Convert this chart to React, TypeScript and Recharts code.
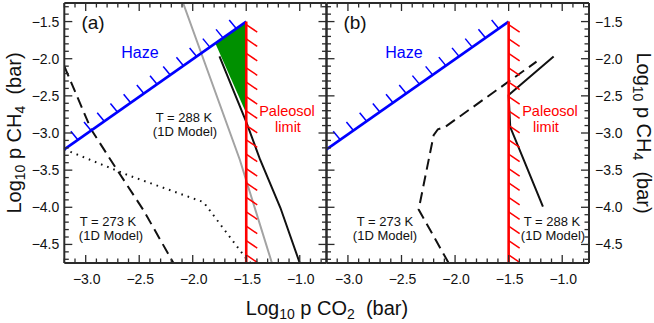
import React from 'react';
import { ComposedChart, Line, Area, XAxis, YAxis, ReferenceLine } from 'recharts';

// ---------- data ----------
const X_DOMAIN: [number, number] = [-3.2, -0.75];
const Y_DOMAIN: [number, number] = [-4.75, -1.25];

const xTicks = [-3.2, -3.1, -3.0, -2.9, -2.8, -2.7, -2.6, -2.5, -2.4, -2.3, -2.2, -2.1, -2.0, -1.9, -1.8, -1.7, -1.6, -1.5, -1.4, -1.3, -1.2, -1.1, -1.0, -0.9, -0.8];
const yTicks = [-4.7, -4.6, -4.5, -4.4, -4.3, -4.2, -4.1, -4.0, -3.9, -3.8, -3.7, -3.6, -3.5, -3.4, -3.3, -3.2, -3.1, -3.0, -2.9, -2.8, -2.7, -2.6, -2.5, -2.4, -2.3, -2.2, -2.1, -2.0, -1.9, -1.8, -1.7, -1.6, -1.5, -1.4, -1.3];

// limits (shared by both panels)
const hazeLimit = [{ x: -3.2, y: -3.22 }, { x: -1.5, y: -1.5 }];
const paleosolLimit = [{ x: -1.5, y: -1.5 }, { x: -1.5, y: -4.75 }];

// panel (a)
const aWarm288 = [{ x: -1.75, y: -1.97 }, { x: -1.5, y: -2.85 }, { x: -1.37, y: -3.36 }, { x: -1.18, y: -4.01 }, { x: -1.0, y: -4.75 }];
const aGray = [{ x: -2.09, y: -1.25 }, { x: -1.56, y: -3.36 }, { x: -1.26, y: -4.75 }];
const aCold273 = [{ x: -3.2, y: -2.1 }, { x: -2.95, y: -2.95 }, { x: -2.75, y: -3.4 }, { x: -2.46, y: -4.04 }, { x: -2.18, y: -4.75 }];
const aDotted = [{ x: -3.2, y: -3.22 }, { x: -2.6, y: -3.57 }, { x: -1.9, y: -3.93 }, { x: -1.5, y: -4.69 }, { x: -1.46, y: -4.75 }];
const aOverlap = [{ x: -1.79, range: [-1.79, -1.79] }, { x: -1.5, range: [-2.735, -1.5] }];

// panel (b)
const bCold273 = [{ x: -2.06, y: -4.75 }, { x: -2.34, y: -4.03 }, { x: -2.2, y: -3.03 }, { x: -2.16, y: -2.95 }, { x: -2.09, y: -2.915 }, { x: -1.24, y: -2.04 }];
const bWarm288 = [{ x: -1.08, y: -1.97 }, { x: -1.5, y: -2.49 }, { x: -1.485, y: -2.92 }, { x: -1.36, y: -3.36 }, { x: -1.18, y: -3.99 }];

// ---------- styles ----------
const FONT = '"Liberation Sans", Arial, Helvetica, sans-serif';
const AXIS = '#2b2b2b';
const BLUE = '#0000ff';
const RED = '#ff0000';
const GREEN = '#009000';

const isMajor = (v: number) => Math.abs(v * 2 - Math.round(v * 2)) < 1e-6;
const fmt = (v: number) => v.toFixed(1).replace('-', '\u2212');

type Side = 'bottom' | 'top' | 'left' | 'right';
const makeTick = (side: Side, showLabel: boolean) => (props: any) => {
  const { x, y, payload } = props;
  const v = payload.value as number;
  const major = isMajor(v);
  const len = major ? 8 : 4.5;
  let ln: any = null;
  let lab: any = null;
  if (side === 'bottom') {
    ln = <line x1={x} y1={y} x2={x} y2={y - len} />;
    if (showLabel && major) lab = <text x={x + 1} y={y + 20.5} textAnchor="middle">{fmt(v)}</text>;
  } else if (side === 'top') {
    ln = <line x1={x} y1={y} x2={x} y2={y + len} />;
  } else if (side === 'left') {
    ln = <line x1={x} y1={y} x2={x + len} y2={y} />;
    if (showLabel && major) lab = <text x={x - 5} y={y + 5} textAnchor="end">{fmt(v)}</text>;
  } else {
    ln = <line x1={x} y1={y} x2={x - len} y2={y} />;
    if (showLabel && major) lab = <text x={x + 6} y={y + 5} textAnchor="start">{fmt(v)}</text>;
  }
  return (
    <g>
      <g stroke={AXIS} strokeWidth={1.3}>{ln}</g>
      {lab && <g fill="#111" stroke="none" fontSize={14} fontFamily={FONT}>{lab}</g>}
    </g>
  );
};

const HazeShape = (props: any) => {
  const { x1, y1, x2, y2 } = props;
  const [xa, ya, xb, yb] = x1 < x2 ? [x1, y1, x2, y2] : [x2, y2, x1, y1];
  const hatches: any[] = [];
  for (let px = xb - 10; px > xa; px -= 13.2) {
    const t = (px - xa) / (xb - xa);
    const py = ya + t * (yb - ya);
    let ex = px - 7;
    let ey = py - 8.5;
    if (ex < xa) {
      const f = (px - xa) / 7;
      ex = xa;
      ey = py - 8.5 * f;
    }
    hatches.push(<line key={px} x1={px} y1={py} x2={ex} y2={ey} />);
  }
  return (
    <g stroke={BLUE} fill="none">
      <g strokeWidth={1.5}>{hatches}</g>
      <line x1={xa} y1={ya} x2={xb} y2={yb} strokeWidth={2.6} />
    </g>
  );
};

const PaleosolShape = (props: any) => {
  const { x1, y1, x2, y2 } = props;
  const top = Math.min(y1, y2);
  const bot = Math.max(y1, y2);
  const hatches: any[] = [];
  for (let py = top + 3; py < bot; py += 14.4) {
    let ey = py + 7.5;
    let ex = x1 + 11;
    if (ey > bot) {
      const f = (bot - py) / 7.5;
      ey = bot;
      ex = x1 + 11 * f;
    }
    hatches.push(<line key={py} x1={x1} y1={py} x2={ex} y2={ey} />);
  }
  return (
    <g stroke={RED} fill="none">
      <g strokeWidth={1.5}>{hatches}</g>
      <line x1={x1} y1={top} x2={x2} y2={bot} strokeWidth={2.6} />
    </g>
  );
};

const axisLine = { stroke: AXIS, strokeWidth: 2 };

function Panel(props: { left: number; right: number; labelLeft: boolean; labelRight: boolean; children: any }) {
  const { left, right, labelLeft, labelRight, children } = props;
  return (
    <div style={{ position: 'absolute', left: 0, top: 0 }}>
      <ComposedChart width={654} height={323} margin={{ top: 2, bottom: 59, left: left - 1, right: right - 1 }}>
        <XAxis xAxisId={0} dataKey="x" type="number" domain={X_DOMAIN} allowDataOverflow ticks={xTicks} interval={0}
          orientation="bottom" height={1} tickSize={0} tickMargin={0} tickLine={false} axisLine={axisLine}
          tick={makeTick('bottom', true)} />
        <XAxis xAxisId="t" dataKey="x" type="number" domain={X_DOMAIN} allowDataOverflow ticks={xTicks} interval={0}
          orientation="top" height={1} tickSize={0} tickMargin={0} tickLine={false} axisLine={axisLine}
          tick={makeTick('top', false)} />
        <YAxis yAxisId={0} type="number" domain={Y_DOMAIN} allowDataOverflow ticks={yTicks} interval={0}
          orientation="left" width={1} tickSize={0} tickMargin={0} tickLine={false} axisLine={axisLine}
          tick={makeTick('left', labelLeft)} />
        <YAxis yAxisId="r" type="number" domain={Y_DOMAIN} allowDataOverflow ticks={yTicks} interval={0}
          orientation="right" width={1} tickSize={0} tickMargin={0} tickLine={false} axisLine={axisLine}
          tick={makeTick('right', labelRight)} />
        {children}
      </ComposedChart>
    </div>
  );
}

const T = (p: { x: number; y: number; size: number; color?: string; children: any }) => (
  <text x={p.x} y={p.y} fontSize={p.size} fill={p.color || '#111'} textAnchor="middle" fontFamily={FONT}>{p.children}</text>
);

const NB = '\u00a0';

export default function App() {
  return (
    <div style={{ position: 'absolute', left: 0, top: 0, width: 654, height: 323, background: '#fff', overflow: 'hidden' }}>
      <Panel left={64.3} right={654 - 326.5} labelLeft={true} labelRight={false}>
        <Area data={aOverlap} dataKey="range" type="linear" fill={GREEN} fillOpacity={1} stroke="none" isAnimationActive={false} dot={false} activeDot={false} />
        <Line data={aGray} dataKey="y" type="linear" stroke="#a3a3a3" strokeWidth={2} dot={false} activeDot={false} isAnimationActive={false} />
        <Line data={aCold273} dataKey="y" type="linear" stroke="#111" strokeWidth={2} strokeDasharray="11 6" dot={false} activeDot={false} isAnimationActive={false} />
        <Line data={aDotted} dataKey="y" type="linear" stroke="#111" strokeWidth={2} strokeDasharray="1.6 5" dot={false} activeDot={false} isAnimationActive={false} />
        <Line data={aWarm288} dataKey="y" type="linear" stroke="#111" strokeWidth={2} dot={false} activeDot={false} isAnimationActive={false} />
        <ReferenceLine segment={hazeLimit} shape={HazeShape} ifOverflow="visible" />
        <ReferenceLine segment={paleosolLimit} shape={PaleosolShape} ifOverflow="visible" />
      </Panel>
      <Panel left={326.5} right={654 - 589} labelLeft={false} labelRight={true}>
        <Line data={bCold273} dataKey="y" type="linear" stroke="#111" strokeWidth={2} strokeDasharray="11 6" dot={false} activeDot={false} isAnimationActive={false} />
        <Line data={bWarm288} dataKey="y" type="linear" stroke="#111" strokeWidth={2} dot={false} activeDot={false} isAnimationActive={false} />
        <ReferenceLine segment={hazeLimit} shape={HazeShape} ifOverflow="visible" />
        <ReferenceLine segment={paleosolLimit} shape={PaleosolShape} ifOverflow="visible" />
      </Panel>
      <svg width={654} height={323} style={{ position: 'absolute', left: 0, top: 0, pointerEvents: 'none' }}>
        <T x={93} y={29} size={19}>(a)</T>
        <T x={355} y={29} size={19}>(b)</T>
        <T x={140} y={58} size={16} color={BLUE}>Haze</T>
        <T x={404} y={58} size={16} color={BLUE}>Haze</T>
        <T x={184} y={122} size={13}>T = 288 K</T>
        <T x={185} y={136} size={13}>(1D Model)</T>
        <T x={287} y={116} size={14.5} color={RED}>Paleosol</T>
        <T x={288} y={132} size={14.5} color={RED}>limit</T>
        <T x={550} y={116} size={14.5} color={RED}>Paleosol</T>
        <T x={546} y={132} size={14.5} color={RED}>limit</T>
        <T x={108} y={226} size={13}>T = 273 K</T>
        <T x={111} y={240} size={13}>(1D Model)</T>
        <T x={385} y={226} size={13}>T = 273 K</T>
        <T x={385} y={240} size={13}>(1D Model)</T>
        <T x={552} y={226} size={13}>T = 288 K</T>
        <T x={553} y={240} size={13}>(1D Model)</T>
        <text x={327} y={315} fontSize={20} fill="#111" textAnchor="middle" fontFamily={FONT}>
          <tspan>Log</tspan><tspan fontSize={14} dy={4}>10</tspan><tspan dy={-4}>{' p CO'}</tspan><tspan fontSize={14} dy={4}>2</tspan><tspan dy={-4}>{NB + NB + '(bar)'}</tspan>
        </text>
        <text transform="translate(21,133) rotate(-90)" fontSize={20} fill="#111" textAnchor="middle" fontFamily={FONT}>
          <tspan>Log</tspan><tspan fontSize={14} dy={4}>10</tspan><tspan dy={-4}>{' p CH'}</tspan><tspan fontSize={14} dy={4}>4</tspan><tspan dy={-4}>{NB + NB + '(bar)'}</tspan>
        </text>
        <text transform="translate(637,133) rotate(90)" fontSize={20} fill="#111" textAnchor="middle" fontFamily={FONT}>
          <tspan>Log</tspan><tspan fontSize={14} dy={4}>10</tspan><tspan dy={-4}>{' p CH'}</tspan><tspan fontSize={14} dy={4}>4</tspan><tspan dy={-4}>{NB + NB + '(bar)'}</tspan>
        </text>
      </svg>
    </div>
  );
}
